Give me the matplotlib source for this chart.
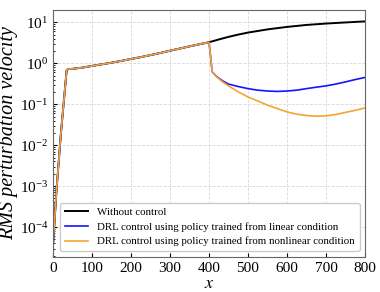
import numpy as np
import matplotlib
matplotlib.use("Agg")
import matplotlib.pyplot as plt
from matplotlib.ticker import LogLocator, NullFormatter

plt.rcParams['font.family'] = ['Liberation Serif', 'DejaVu Serif']
plt.rcParams['mathtext.fontset'] = 'stix'

# shared growth phase (all three cases identical up to x = 400)
x_grow = [0, 9, 20, 35, 40, 50, 75, 100, 125, 150, 175, 200, 225, 250, 275,
          300, 325, 350, 375, 400]
y_grow = [3.6e-5, 8e-4, 1.8e-2, 0.68, 0.72, 0.73, 0.78, 0.86, 0.94, 1.03,
          1.14, 1.27, 1.41, 1.58, 1.78, 2.02, 2.28, 2.58, 2.90, 3.25]

# without control, after x = 400
x_free = [425, 450, 475, 500, 550, 600, 650, 700, 750, 800]
y_free = [3.8, 4.4, 5.0, 5.6, 6.7, 7.7, 8.6, 9.3, 9.9, 10.5]

# controlled cases, after x = 400
x_ctrl = [404, 408, 420, 435, 450, 475, 500, 525, 550, 575, 600, 625, 650,
          675, 700, 725, 750, 775, 800]
y_lin = [1.5, 0.62, 0.47, 0.37, 0.31, 0.27, 0.24, 0.22, 0.21, 0.205, 0.21,
         0.22, 0.24, 0.26, 0.28, 0.31, 0.35, 0.40, 0.45]
y_nonlin = [1.5, 0.62, 0.46, 0.35, 0.28, 0.20, 0.15, 0.12, 0.095, 0.078,
            0.065, 0.057, 0.053, 0.051, 0.052, 0.056, 0.063, 0.071, 0.081]

labels = ["Without control",
          "DRL control using policy trained from linear condition",
          "DRL control using policy trained from nonlinear condition"]
yticks = [1e-4, 1e-3, 1e-2, 1e-1, 1e0, 1e1]

fig = plt.figure(figsize=(3.8, 2.92), dpi=100)
ax = fig.add_axes([0.1395, 0.121, 0.821, 0.845])

ax.plot(x_grow + x_free, y_grow + y_free, color='black', lw=1.4, label=labels[0])
ax.plot(x_grow + x_ctrl, y_grow + y_lin, color='#1414ff', lw=1.2, label=labels[1])
ax.plot(x_grow + x_ctrl, y_grow + y_nonlin, color='#f5a431', lw=1.2, label=labels[2])

ax.set_yscale('log')
ax.set_xlim(0, 800)
ax.set_ylim(1.9e-5, 20)
ax.set_xticks(np.arange(0, 801, 100))
ax.set_yticks(yticks)
ax.yaxis.set_minor_locator(LogLocator(base=10, subs=np.arange(2, 10), numticks=10))
ax.yaxis.set_minor_formatter(NullFormatter())

ax.grid(True, which='major', ls='--', color='#d9d9d9', lw=0.6)
ax.tick_params(which='both', direction='in', labelsize=11, colors='black')
ax.tick_params(which='major', length=3)
ax.tick_params(which='minor', length=1.5)
for s in ax.spines.values():
    s.set_color('#666666')

ax.set_xlabel('$x$', fontsize=13, labelpad=0)
ax.set_ylabel('RMS perturbation velocity', fontsize=14.5, style='italic', labelpad=1)

ax.legend(loc='lower right', fontsize=7.8, framealpha=1, edgecolor='#cccccc',
          borderaxespad=0.5, handlelength=2.2, borderpad=0.45, labelspacing=0.45)

fig.savefig('out.png', dpi=100)
